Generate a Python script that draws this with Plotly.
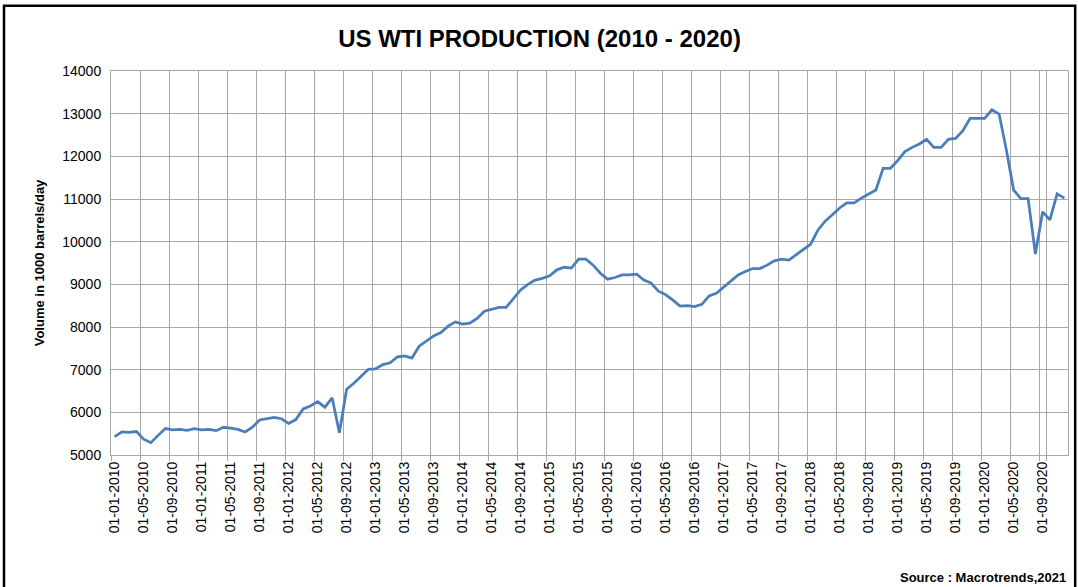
import plotly.graph_objects as go

# Monthly categories Jan 2010 .. Dec 2020 (label format dd-mm-yyyy)
years = list(range(2010, 2021))
months_of_year = list(range(1, 13))
categories = [f"01-{m:02d}-{y}" for y in years for m in months_of_year]

# US WTI production, thousand barrels/day
production = [
    5430, 5540, 5530, 5550, 5370, 5290, 5460, 5620, 5590, 5600, 5580, 5620,   # 2010
    5590, 5600, 5570, 5650, 5630, 5600, 5540, 5650, 5820, 5850, 5880, 5850,   # 2011
    5740, 5830, 6080, 6150, 6250, 6120, 6340, 5520, 6540, 6680, 6840, 7010,   # 2012
    7020, 7120, 7160, 7300, 7320, 7270, 7550, 7660, 7790, 7870, 8020, 8120,   # 2013
    8070, 8090, 8200, 8370, 8410, 8460, 8460, 8670, 8870, 9000, 9100, 9140,   # 2014
    9200, 9340, 9400, 9380, 9590, 9590, 9450, 9260, 9120, 9160, 9220, 9220,   # 2015
    9240, 9100, 9030, 8840, 8760, 8630, 8490, 8500, 8480, 8530, 8730, 8790,   # 2016
    8930, 9080, 9220, 9300, 9370, 9370, 9450, 9550, 9590, 9570, 9700, 9820,   # 2017
    9940, 10270, 10480, 10630, 10790, 10910, 10910, 11020, 11120, 11210, 11720, 11720,  # 2018
    11900, 12110, 12210, 12290, 12400, 12210, 12210, 12400, 12420, 12600, 12890, 12890,  # 2019
    12890, 13090, 12990, 12150, 11210, 11010, 11010, 9710, 10700, 10510, 11120, 11020,   # 2020
]

tick_labels = categories[::4]
y_ticks = [5000, 6000, 7000, 8000, 9000, 10000, 11000, 12000, 13000, 14000]

title_text = "US WTI PRODUCTION (2010 - 2020)"
y_title = "Volume in 1000 barrels/day"
source_text = "Source : Macrotrends,2021"

grid_color = "#a6a6a6"

fig = go.Figure()
fig.add_trace(go.Scatter(
    x=categories, y=production, mode="lines",
    line=dict(color="#4a7ebb", width=2.75),
    showlegend=False,
))

fig.update_layout(
    width=1079, height=587,
    margin=dict(l=111, r=11, t=71, b=132),
    paper_bgcolor="white", plot_bgcolor="white",
    font=dict(family="Liberation Sans, Arial, sans-serif", color="black"),
    title=dict(text=f"<b>{title_text}</b>", x=0.5, xanchor="center",
               y=0.935, yanchor="middle",
               font=dict(size=24, family="Liberation Sans, Arial, sans-serif", color="black")),
)

fig.update_xaxes(
    type="category",
    tickmode="array", tickvals=tick_labels, ticktext=tick_labels,
    tickson="boundaries",
    tickangle=-90,
    tickfont=dict(size=14, color="black"),
    showgrid=True, gridcolor=grid_color, gridwidth=1,
    showline=True, linecolor=grid_color, linewidth=1, mirror=True,
    ticks="outside", ticklen=5, tickcolor=grid_color,
    range=[-0.5, len(categories) - 0.5],
)
fig.update_yaxes(
    range=[5000, 14000],
    tickvals=y_ticks, tickformat="d",
    tickfont=dict(size=14, color="black"),
    ticklabelstandoff=6,
    showgrid=True, gridcolor=grid_color, gridwidth=1,
    showline=True, linecolor=grid_color, linewidth=1, mirror=True,
    ticks="", zeroline=False,
    title=dict(text=f"<b>{y_title}</b>", font=dict(size=13, color="black"), standoff=14),
)

fig.add_annotation(
    text=f"<b>{source_text}</b>", xref="paper", yref="paper",
    x=1.0, y=-0.318, xanchor="right", yanchor="middle",
    showarrow=False, font=dict(size=13, color="black"),
)

# outer chart frame
fig.add_shape(type="rect", xref="paper", yref="paper",
              x0=-0.1118, x1=1.0075, y0=-0.36, y1=1.17,
              line=dict(color="black", width=2.5), fillcolor="rgba(0,0,0,0)",
              layer="above")

fig.write_html("out.html", config={"displayModeBar": False},
               post_script="document.body.style.margin='0';document.body.style.overflow='hidden';")
